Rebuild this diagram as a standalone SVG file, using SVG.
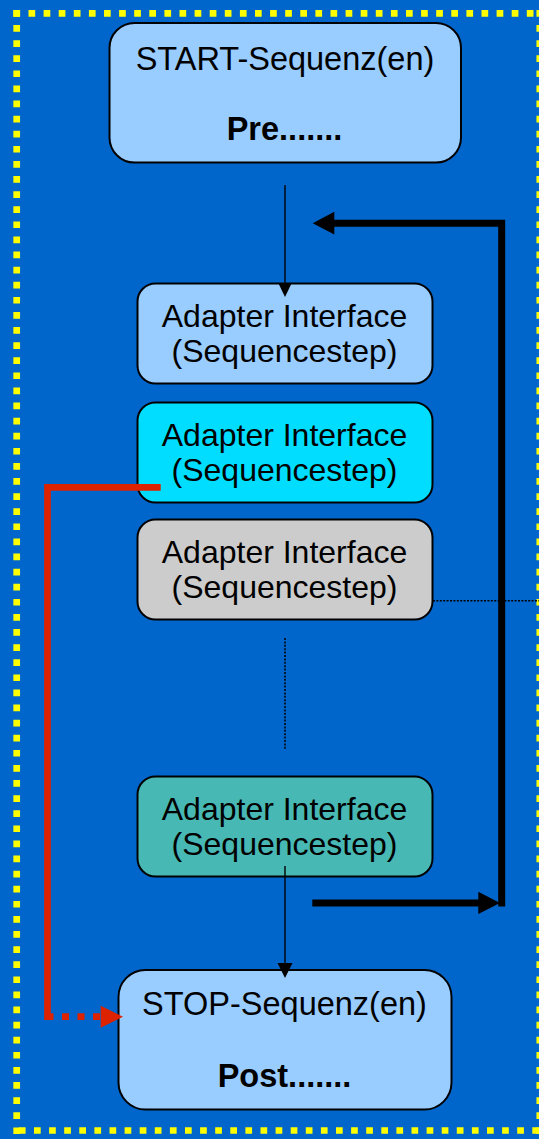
<svg xmlns="http://www.w3.org/2000/svg" width="539" height="1139" viewBox="0 0 539 1139">
<defs>
<style>
.box{stroke:#000;stroke-width:2}
.t{font-family:"Liberation Sans",Arial,sans-serif;font-size:32.5px;fill:#000;text-anchor:middle}
.ta{font-family:"Liberation Sans",Arial,sans-serif;font-size:32px;fill:#000;text-anchor:middle}
.b{font-weight:bold}
.ybord{stroke:#FFFF00;stroke-width:6.7;stroke-dasharray:6.7 8.4;fill:none}
.thin{stroke:#000;stroke-width:1.4;fill:none}
.thick{stroke:#000;stroke-width:7;fill:none}
.red{stroke:#DD2200;stroke-width:6.7;fill:none}
.dot{stroke:#000;stroke-width:1.5;stroke-dasharray:2 1.4;fill:none}
</style>
</defs>
<rect x="0" y="0" width="539" height="1139" fill="#0066CC"/>
<g id="border">
<line class="ybord" x1="13.4" y1="13.3" x2="539" y2="13.3"/>
<line class="ybord" x1="16.7" y1="10" x2="16.7" y2="1134"/>
<line class="ybord" x1="18.9" y1="1130.5" x2="539" y2="1130.5"/>
<line class="ybord" x1="539.8" y1="10" x2="539.8" y2="1134"/>
</g>
<g id="start">
<rect class="box" x="109.5" y="23" width="351.5" height="139.5" rx="25" fill="#99CCFF"/>
<text class="t" x="285" y="69.5">START-Sequenz(en)</text>
<text class="t b" x="284.5" y="140">Pre.......</text>
</g>
<g id="adapter1">
<rect class="box" x="137.5" y="283.5" width="295" height="100" rx="18" fill="#99CCFF"/>
<text class="ta" x="284.5" y="327">Adapter Interface</text>
<text class="ta" x="284.5" y="362">(Sequencestep)</text>
</g>
<g id="adapter2">
<rect class="box" x="137.5" y="402.5" width="295" height="100" rx="18" fill="#00DDFF"/>
<text class="ta" x="284.5" y="446">Adapter Interface</text>
<text class="ta" x="284.5" y="481">(Sequencestep)</text>
</g>
<g id="adapter3">
<rect class="box" x="137.5" y="519.5" width="295" height="100" rx="18" fill="#CCCCCC"/>
<text class="ta" x="284.5" y="563">Adapter Interface</text>
<text class="ta" x="284.5" y="598">(Sequencestep)</text>
</g>
<g id="adapter4">
<rect class="box" x="137.5" y="776.5" width="295" height="100" rx="18" fill="#48B8B4"/>
<text class="ta" x="284.5" y="820">Adapter Interface</text>
<text class="ta" x="284.5" y="855">(Sequencestep)</text>
</g>
<g id="stop">
<rect class="box" x="118.5" y="970" width="333" height="139.5" rx="27" fill="#99CCFF"/>
<text class="t" x="284.5" y="1015">STOP-Sequenz(en)</text>
<text class="t b" x="284.5" y="1087">Post.......</text>
</g>
<g id="connectors">
<line class="thin" x1="285" y1="185" x2="285" y2="285"/>
<polygon points="278.5,283.5 291.5,283.5 285,297" fill="#000"/>
<line class="thin" x1="285" y1="866" x2="285" y2="964"/>
<polygon points="277.5,963 292.5,963 285,978" fill="#000"/>
<line class="thick" x1="312.3" y1="903" x2="480" y2="903"/>
<polygon points="478.3,891.7 478.3,914 500,903" fill="#000"/>
<polyline class="thick" points="501.7,906.5 501.7,223.3 332,223.3"/>
<polygon points="334.3,211.7 334.3,234.5 312.7,223.3" fill="#000"/>
<polyline class="red" points="160.7,487.3 47.5,487.3 47.5,1020"/>
<line class="red" x1="46.5" y1="1016.7" x2="101" y2="1016.7" stroke-dasharray="7 8.5"/>
<polygon points="100.7,1005.7 100.7,1027.7 123,1016.7" fill="#DD2200"/>
<line class="dot" x1="433" y1="600.7" x2="539" y2="600.7"/>
<line class="dot" x1="285" y1="638" x2="285" y2="750"/>
</g>
</svg>
